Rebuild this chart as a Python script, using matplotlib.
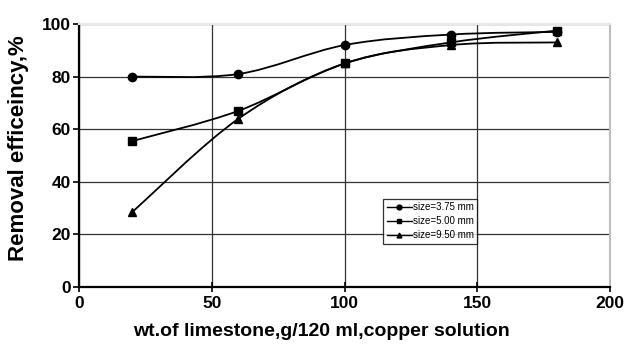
import numpy as np
import matplotlib
matplotlib.use('Agg')
import matplotlib.pyplot as plt
from matplotlib.path import Path
from matplotlib.patches import PathPatch
from matplotlib.lines import Line2D

# data
wt = [20, 60, 100, 140, 180]
eff_375 = [80, 81, 92, 96, 97]
eff_500 = [55.5, 67, 85, 93, 97.5]
eff_950 = [28.5, 64, 85, 92, 93]
labels = ['size=3.75 mm', 'size=5.00 mm', 'size=9.50 mm']
markers = ['o', 's', '^']

plt.rcParams['font.family'] = ['Liberation Sans', 'DejaVu Sans']
plt.rcParams['font.weight'] = 'bold'


def smooth_path(x, y):
    # excel-like smoothed line: catmull-rom segments as cubic beziers
    x = np.asarray(x, float)
    y = np.asarray(y, float)
    n = len(x)
    verts = [(x[0], y[0])]
    codes = [Path.MOVETO]
    for i in range(n - 1):
        p0 = (x[max(i - 1, 0)], y[max(i - 1, 0)])
        p1 = (x[i], y[i])
        p2 = (x[i + 1], y[i + 1])
        p3 = (x[min(i + 2, n - 1)], y[min(i + 2, n - 1)])
        c1 = (p1[0] + (p2[0] - p0[0]) / 6, p1[1] + (p2[1] - p0[1]) / 6)
        c2 = (p2[0] - (p3[0] - p1[0]) / 6, p2[1] - (p3[1] - p1[1]) / 6)
        verts += [c1, c2, p2]
        codes += [Path.CURVE4] * 3
    return Path(verts, codes)


fig = plt.figure(figsize=(6.33, 3.48), dpi=100)
ax = fig.add_axes([0.125, 0.175, 0.839, 0.756])

handles = []
for ys, m, lab in zip([eff_375, eff_500, eff_950], markers, labels):
    ax.add_patch(PathPatch(smooth_path(wt, ys), fill=False, lw=1.3,
                           edgecolor='black', zorder=3))
    ax.plot(wt, ys, linestyle='none', marker=m, color='black',
            markersize=6, zorder=4)
    handles.append(Line2D([], [], color='black', lw=1.0, marker=m,
                          markersize=3.5))

ax.set_xlim(0, 200)
ax.set_ylim(0, 100)
ax.set_xticks([0, 50, 100, 150, 200])
ax.set_yticks([0, 20, 40, 60, 80, 100])
ax.grid(True, color='#333333', lw=0.9)
ax.set_axisbelow(True)

ax.spines['left'].set_linewidth(1.6)
ax.spines['bottom'].set_linewidth(1.6)
ax.spines['top'].set_color('#e8e8e8')
ax.spines['top'].set_linewidth(1.5)
ax.spines['right'].set_color('#bdbdbd')
ax.spines['right'].set_linewidth(1.5)

ax.tick_params(axis='y', direction='out', length=4, width=1.2,
               labelsize=12.5, pad=2)
ax.tick_params(axis='x', direction='inout', length=7, width=1.2,
               labelsize=12.5, pad=3)
for t in ax.get_xticklabels() + ax.get_yticklabels():
    t.set_fontweight('bold')

ax.set_xlabel('wt.of limestone,g/120 ml,copper solution', fontsize=14,
              fontweight='bold')
ax.set_ylabel('Removal efficeincy,%', fontsize=16, fontweight='bold')
ax.xaxis.set_label_coords(0.456, -0.135)
ax.yaxis.set_label_coords(-0.094, 0.53)

leg = ax.legend(handles, labels, loc='upper left',
                bbox_to_anchor=(0.573, 0.335), fontsize=7, frameon=True,
                fancybox=False, edgecolor='black', handlelength=2.6,
                handletextpad=0.1, borderpad=0.35, labelspacing=0.4,
                borderaxespad=0)
leg.get_frame().set_linewidth(0.9)
for t in leg.get_texts():
    t.set_fontweight('normal')

fig.savefig('out.png', dpi=100)
